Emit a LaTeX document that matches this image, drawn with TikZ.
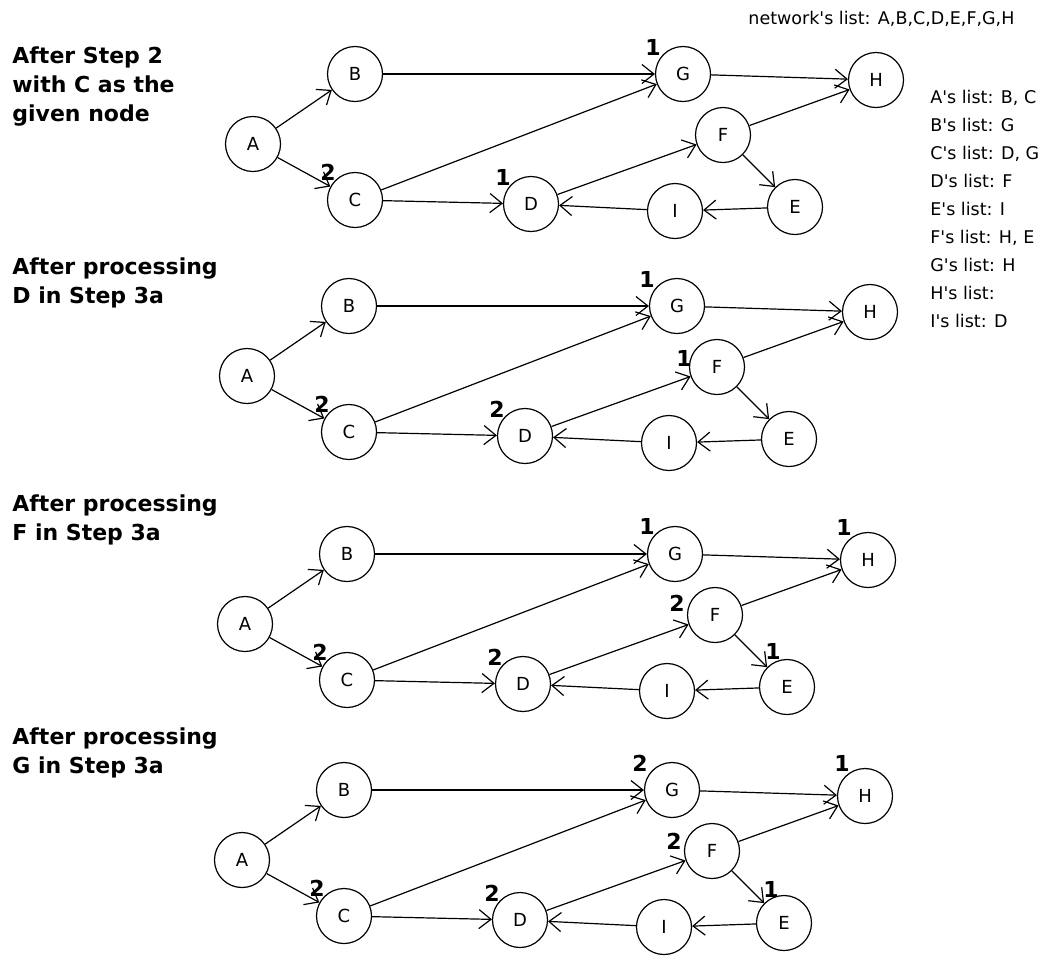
\documentclass[tikz,border=0pt]{standalone}
\usepackage{fontspec}
\setmainfont{DejaVu Sans}
\usetikzlibrary{arrows.meta}

\tikzset{
  vertex/.style={draw, circle, line width=0.6pt, minimum size=27.5pt, inner sep=0pt, font=\fontsize{9}{11}\selectfont},
  link/.style={line width=0.6pt, -{Straight Barb[length=6pt,width=9.5pt,line width=0.6pt]}},
  cnt/.style={inner sep=0pt, font=\bfseries\fontsize{11}{13}\selectfont},
  steptext/.style={anchor=north west, inner sep=0pt, align=left, font=\bfseries\fontsize{11}{14.5}\selectfont},
  listtext/.style={anchor=north west, inner sep=0pt, align=left, font=\fontsize{8.75}{14}\selectfont}
}
\newcommand{\sq}{\textquotesingle}

\begin{document}
\begin{tikzpicture}[x=0.5pt, y=-0.5pt]
        \useasboundingbox (0,0) rectangle (1047,955);
        % lists on the right
        \node[listtext] (net) at (748,11) {network\sq s list: A,B,C,D,E,F,G,H};
        \node[listtext] (lists) at (930,90) {A\sq s list: B, C\\B\sq s list: G\\C\sq s list: D, G\\D\sq s list: F\\E\sq s list: I\\F\sq s list: H, E\\G\sq s list: H\\H\sq s list:\\I\sq s list: D};
        % step titles
        \node[steptext] (t1) at (12,46) {After Step 2\\with C as the\\given node};
        \node[steptext] (t2) at (12,257) {After processing\\D in Step 3a};
        \node[steptext] (t3) at (12,494) {After processing\\F in Step 3a};
        \node[steptext] (t4) at (12,727) {After processing\\G in Step 3a};

        % after step 2
        \begin{scope}[every node/.style={vertex}]
                \node (A1) at (253,144) {A};
                \node (B1) at (355,74) {B};
                \node (C1) at (355,200) {C};
                \node (D1) at (531,204) {D};
                \node (G1) at (683,74) {G};
                \node (H1) at (876,80) {H};
                \node (F1) at (723,135) {F};
                \node (E1) at (795,207) {E};
                \node (I1) at (675,211) {I};
        \end{scope}
        \begin{scope}[every path/.style={link}]
                \path (A1) edge (B1) (A1) edge (C1) (B1) edge (G1) (C1) edge (G1);
                \path (C1) edge (D1) (D1) edge (F1) (G1) edge (H1) (F1) edge (H1);
                \path (F1) edge (E1) (E1) edge (I1) (I1) edge (D1);
        \end{scope}
        \node[cnt] (c1C) at ([shift={(-27,-28)}]C1) {2};
        \node[cnt] (c1D) at ([shift={(-28,-27)}]D1) {1};
        \node[cnt] (c1G) at ([shift={(-30,-27)}]G1) {1};

        % after D
        \begin{scope}[shift={(-6,232)}, every node/.style={vertex}]
                \node (A2) at (253,144) {A};
                \node (B2) at (355,74) {B};
                \node (C2) at (355,200) {C};
                \node (D2) at (531,204) {D};
                \node (G2) at (683,74) {G};
                \node (H2) at (876,80) {H};
                \node (F2) at (723,135) {F};
                \node (E2) at (795,207) {E};
                \node (I2) at (675,211) {I};
        \end{scope}
        \begin{scope}[every path/.style={link}]
                \path (A2) edge (B2) (A2) edge (C2) (B2) edge (G2) (C2) edge (G2);
                \path (C2) edge (D2) (D2) edge (F2) (G2) edge (H2) (F2) edge (H2);
                \path (F2) edge (E2) (E2) edge (I2) (I2) edge (D2);
        \end{scope}
        \node[cnt] (c2C) at ([shift={(-27,-28)}]C2) {2};
        \node[cnt] (c2D) at ([shift={(-28,-27)}]D2) {2};
        \node[cnt] (c2G) at ([shift={(-30,-27)}]G2) {1};
        \node[cnt] (c2F) at ([shift={(-33,-9)}]F2) {1};

        % after F
        \begin{scope}[shift={(-8,480)}, every node/.style={vertex}]
                \node (A3) at (253,144) {A};
                \node (B3) at (355,74) {B};
                \node (C3) at (355,200) {C};
                \node (D3) at (531,204) {D};
                \node (G3) at (683,74) {G};
                \node (H3) at (876,80) {H};
                \node (F3) at (723,135) {F};
                \node (E3) at (795,207) {E};
                \node (I3) at (675,211) {I};
        \end{scope}
        \begin{scope}[every path/.style={link}]
                \path (A3) edge (B3) (A3) edge (C3) (B3) edge (G3) (C3) edge (G3);
                \path (C3) edge (D3) (D3) edge (F3) (G3) edge (H3) (F3) edge (H3);
                \path (F3) edge (E3) (E3) edge (I3) (I3) edge (D3);
        \end{scope}
        \node[cnt] (c3C) at ([shift={(-27,-28)}]C3) {2};
        \node[cnt] (c3D) at ([shift={(-28,-27)}]D3) {2};
        \node[cnt] (c3G) at ([shift={(-28,-28)}]G3) {1};
        \node[cnt] (c3H) at ([shift={(-24,-33)}]H3) {1};
        \node[cnt] (c3F) at ([shift={(-38,-12)}]F3) {2};
        \node[cnt] (c3E) at ([shift={(-14,-36)}]E3) {1};

        % after G
        \begin{scope}[shift={(-11,716)}, every node/.style={vertex}]
                \node (A4) at (253,144) {A};
                \node (B4) at (355,74) {B};
                \node (C4) at (355,200) {C};
                \node (D4) at (531,204) {D};
                \node (G4) at (683,74) {G};
                \node (H4) at (876,80) {H};
                \node (F4) at (723,135) {F};
                \node (E4) at (795,207) {E};
                \node (I4) at (675,211) {I};
        \end{scope}
        \begin{scope}[every path/.style={link}]
                \path (A4) edge (B4) (A4) edge (C4) (B4) edge (G4) (C4) edge (G4);
                \path (C4) edge (D4) (D4) edge (F4) (G4) edge (H4) (F4) edge (H4);
                \path (F4) edge (E4) (E4) edge (I4) (I4) edge (D4);
        \end{scope}
        \node[cnt] (c4C) at ([shift={(-27,-28)}]C4) {2};
        \node[cnt] (c4D) at ([shift={(-28,-27)}]D4) {2};
        \node[cnt] (c4G) at ([shift={(-32,-27)}]G4) {2};
        \node[cnt] (c4H) at ([shift={(-23,-33)}]H4) {1};
        \node[cnt] (c4F) at ([shift={(-38,-10)}]F4) {2};
        \node[cnt] (c4E) at ([shift={(-13,-34)}]E4) {1};
\end{tikzpicture}
\end{document}
